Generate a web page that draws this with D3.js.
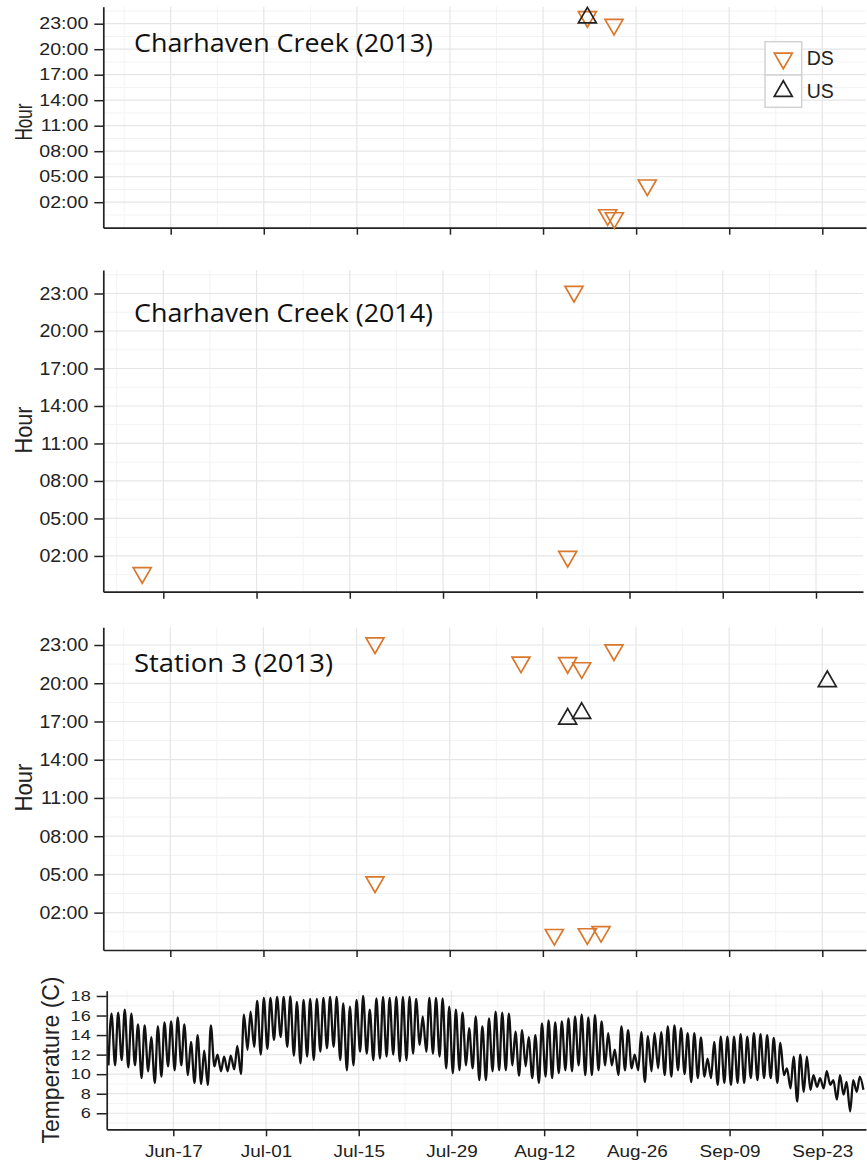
<!DOCTYPE html>
<meta charset="utf-8">
<script src="https://cdn.jsdelivr.net/npm/d3@7"></script>
<style>
body{margin:0;background:#fff;}
svg{display:block;}
</style>
<div id="vis"></div>
<script>
// detections: date-time and hour of day, per site / direction
var ch13DsTime = ["2013-08-18 16:00","2013-08-22 16:00","2013-08-27 16:20","2013-08-21 17:20","2013-08-22 17:20"];
var ch13DsHour = [23.8, 22.9, 4.0, 0.5, 0.15];
var ch13UsTime = ["2013-08-18 16:00"];
var ch13UsHour = [23.7];

var ch14DsTime = ["2014-06-13 20:00","2014-08-17 16:00","2014-08-16 17:20"];
var ch14DsHour = [0.65, 23.15, 1.95];
var ch14UsTime = [];
var ch14UsHour = [];

var st3DsTime = ["2013-07-17 18:30","2013-07-17 18:30","2013-08-08 17:00","2013-08-15 17:30","2013-08-17 20:00",
                 "2013-08-22 16:30","2013-08-13 17:20","2013-08-18 16:20","2013-08-20 17:50"];
var st3DsHour = [23.15, 4.4, 21.65, 21.6, 21.2, 22.6, 0.27, 0.33, 0.5];
var st3UsTime = ["2013-08-15 17:30","2013-08-17 20:00","2013-09-23 18:00"];
var st3UsHour = [17.2, 17.65, 20.15];

// water temperature, daily low (early morning) and high (afternoon) from Jun 7
var tempStart = "2013-06-07";
var tempMin = [10.9,10.9,11.45,10.7,10.9,9.6,10.3,9.1,9.75,10.8,10.4,10.9,9.9,9.1,9.0,8.9,10.8,10.3,10.3,10.5,10.0,12.5,12.8,12.0,12.6,13.5,13.8,12.8,
  11.9,11.1,11.8,11.45,12.3,12.65,12.8,11.45,10.4,10.9,12.3,12.1,11.45,11.6,11.8,12.0,11.3,11.45,12.1,13.0,12.3,12.1,11.8,10.6,10.1,10.4,10.9,10.6,9.4,9.4,10.3,
  10.4,10.4,10.9,9.85,10.8,9.6,9.1,9.75,9.6,10.1,10.4,10.3,10.9,9.9,9.9,10.4,10.9,10.9,9.9,10.4,10.6,10.4,9.2,10.3,10.6,9.9,9.75,10.4,
  10.0,9.2,9.6,9.75,9.6,8.9,9.1,8.9,9.1,9.1,9.6,9.4,9.6,9.6,9.1,9.9,8.55,7.2,8.2,8.4,8.7,8.55,8.9,7.4,7.9,6.2,8.2,8.4];
var tempMax = [16.2,16.3,16.6,16.2,15.1,15.0,13.8,14.9,15.3,15.4,15.8,15.1,13.3,14.0,12.4,15.0,12.0,11.8,11.9,12.9,16.1,16.4,17.5,17.8,17.8,17.9,17.9,17.95,
  17.4,17.6,17.7,17.7,17.8,17.9,17.9,17.25,16.9,17.6,18.0,16.6,17.75,17.9,17.8,17.9,17.9,17.9,17.7,15.9,17.8,17.8,17.75,16.9,16.6,16.3,14.7,15.9,14.9,15.7,
  16.4,16.3,16.2,14.35,14.5,13.8,14.0,15.2,15.5,15.3,15.4,15.7,15.9,16.1,15.8,16.05,15.4,14.2,12.5,14.9,14.5,12.0,14.3,13.9,14.2,14.3,14.9,15.0,14.7,
  14.2,14.2,13.75,11.6,13.3,13.85,13.85,13.85,14.1,13.85,14.2,14.1,14.0,13.7,13.2,10.6,11.8,12.0,11.8,9.9,9.6,10.3,9.4,9.9,9.2,9.4,9.75];

var hourTicks = [2, 5, 8, 11, 14, 17, 20, 23];
var tempTicks = [6, 8, 10, 12, 14, 16, 18];
var dateTicks = ["2013-06-17","2013-07-01","2013-07-15","2013-07-29","2013-08-12","2013-08-26","2013-09-09","2013-09-23"];

var W = 867, H = 1172;
var orange = "#d9782d", dark = "#222";
var parseTime = d3.timeParse("%Y-%m-%d %H:%M");
var parseDay = d3.timeParse("%Y-%m-%d");
var ticksX = dateTicks.map(parseDay);
var minorX = [d3.timeDay.offset(ticksX[0], -7)].concat(ticksX.slice(0, -1).map(function(d){ return d3.timeDay.offset(d, 7); }));

// every panel uses the 2013 season calendar
function season(s){
  var t = parseTime(s);
  return new Date(2013, t.getMonth(), t.getDate(), t.getHours(), t.getMinutes());
}
function pts(times, hours){
  return times.map(function(t, i){ return {t: season(t), h: hours[i]}; });
}

var svg = d3.select("#vis").append("svg").attr("width", W).attr("height", H);

function makeX(p){
  var x = d3.scaleTime().domain([ticksX[0], ticksX[ticksX.length - 1]]).range([p.x0, p.x1]);
  return x.domain([x.invert(p.left), x.invert(p.right)]).range([p.left, p.right]);
}

function grid(g, x, y, majorY, minorY, p){
  g.selectAll(".gminy").data(minorY).enter().append("line")
    .attr("x1", p.left).attr("x2", p.right).attr("y1", y).attr("y2", y)
    .attr("stroke", "#f3f3f3").attr("stroke-width", 1);
  g.selectAll(".gminx").data(minorX).enter().append("line")
    .attr("x1", x).attr("x2", x).attr("y1", p.top).attr("y2", p.bottom)
    .attr("stroke", "#f3f3f3").attr("stroke-width", 1);
  g.selectAll(".gmajy").data(majorY).enter().append("line")
    .attr("x1", p.left).attr("x2", p.right).attr("y1", y).attr("y2", y)
    .attr("stroke", "#e6e6e6").attr("stroke-width", 1.2);
  g.selectAll(".gmajx").data(ticksX).enter().append("line")
    .attr("x1", x).attr("x2", x).attr("y1", p.top).attr("y2", p.bottom)
    .attr("stroke", "#e6e6e6").attr("stroke-width", 1.2);
}

function axes(g, x, y, p, yTicks, yFmt, showDates){
  var ya = g.append("g").attr("transform", "translate(" + p.left + ",0)")
    .call(d3.axisLeft(y).tickValues(yTicks).tickFormat(yFmt).tickSize(p.tickLen).tickPadding(6).tickSizeOuter(0));
  var xa = g.append("g").attr("transform", "translate(0," + p.bottom + ")")
    .call(d3.axisBottom(x).tickValues(ticksX).tickFormat(showDates ? d3.timeFormat("%b-%d") : "").tickSize(7).tickPadding(9).tickSizeOuter(0));
  [ya, xa].forEach(function(a){
    a.select(".domain").attr("stroke", dark).attr("stroke-width", 1.7);
    a.selectAll(".tick line").attr("stroke", dark).attr("stroke-width", 1.5);
    a.selectAll(".tick text").attr("fill", dark).style("font-family", "'Liberation Sans', Arial, sans-serif");
  });
  ya.selectAll(".tick text").style("font-size", p.tickFont + "px")
    .attr("x", -(p.tickLen + 6) / p.tickStretch)
    .attr("transform", "scale(" + p.tickStretch + ",1)");
  xa.selectAll(".tick text").style("font-size", "17.2px").attr("dy", "0.71em")
    .attr("transform", "scale(1.1,1)");
}

function yTitle(label, cx, cy, len){
  svg.append("text").attr("transform", "translate(" + cx + "," + cy + ") rotate(-90)")
    .attr("text-anchor", "middle").attr("textLength", len).attr("lengthAdjust", "spacingAndGlyphs")
    .style("font-family", "'Liberation Sans', Arial, sans-serif").style("font-size", "23px").attr("fill", dark)
    .text(label);
}

var tri = d3.symbol().type(d3.symbolTriangle).size(140);

var hourPanels = [
  {title: "Charhaven Creek (2013)", titleLen: 299, titleY: 51.7, left: 103.3, right: 866, top: 6.7, bottom: 227.7,
   x0: 170.7, x1: 822.3, yDom: [-1, 25], tickFont: 16.3, tickStretch: 1.2, tickLen: 9, hourY: 122, hourLen: 37,
   ds: pts(ch13DsTime, ch13DsHour), us: pts(ch13UsTime, ch13UsHour), legend: true},
  {title: "Charhaven Creek (2014)", titleLen: 299, titleY: 322.3, left: 103.3, right: 863, top: 270, bottom: 591.7,
   x0: 163.3, x1: 816, yDom: [-0.86, 24.88], tickFont: 18.6, tickStretch: 1.05, tickLen: 9, hourY: 430, hourLen: 47,
   ds: pts(ch14DsTime, ch14DsHour), us: pts(ch14UsTime, ch14UsHour)},
  {title: "Station 3 (2013)", titleLen: 199, titleY: 672.3, left: 103.3, right: 866, top: 627.3, bottom: 950,
   x0: 170.3, x1: 822.3, yDom: [-0.93, 24.39], tickFont: 18.6, tickStretch: 1.05, tickLen: 9, hourY: 787.5, hourLen: 48,
   ds: pts(st3DsTime, st3DsHour), us: pts(st3UsTime, st3UsHour)}
];

hourPanels.forEach(function(p){
  var x = makeX(p);
  var y = d3.scaleLinear().domain(p.yDom).range([p.bottom, p.top]);
  var g = svg.append("g");
  var minorY = d3.range(0.5, 25, 3).filter(function(h){ return h > p.yDom[0] && h < p.yDom[1]; });
  grid(g, x, y, hourTicks, minorY, p);
  axes(g, x, y, p, hourTicks, function(h){ return d3.format("02")(h) + ":00"; }, false);

  g.append("text").attr("x", 134).attr("y", p.titleY)
    .attr("textLength", p.titleLen).attr("lengthAdjust", "spacingAndGlyphs")
    .style("font-family", "'Open Sans', sans-serif").style("font-size", "26px").attr("fill", "#111")
    .text(p.title);

  g.selectAll(".ds").data(p.ds).enter().append("path")
    .attr("d", tri)
    .attr("transform", function(d){ return "translate(" + x(d.t) + "," + y(d.h) + ") rotate(180)"; })
    .attr("fill", "none").attr("stroke", orange).attr("stroke-width", 1.7);
  g.selectAll(".us").data(p.us).enter().append("path")
    .attr("d", tri)
    .attr("transform", function(d){ return "translate(" + x(d.t) + "," + y(d.h) + ")"; })
    .attr("fill", "none").attr("stroke", dark).attr("stroke-width", 1.7);

  yTitle("Hour", 31.5, p.hourY, p.hourLen);

  if (p.legend) {
    var lg = g.append("g").attr("transform", "translate(765,41.7)");
    var keys = [{label: "DS", c: orange, rot: 180, y: 0, h: 33.3}, {label: "US", c: dark, rot: 0, y: 33.3, h: 32.3}];
    keys.forEach(function(k){
      lg.append("rect").attr("x", 0).attr("y", k.y).attr("width", 36.7).attr("height", k.h)
        .attr("fill", "#fff").attr("stroke", "#d2d2d2").attr("stroke-width", 1.5);
      lg.append("path").attr("d", tri)
        .attr("transform", "translate(18.3," + (k.y + k.h / 2) + ") rotate(" + k.rot + ")")
        .attr("fill", "none").attr("stroke", k.c).attr("stroke-width", 1.7);
      lg.append("text").attr("x", 41.7).attr("y", k.y + k.h / 2).attr("dy", "0.36em")
        .style("font-family", "'Liberation Sans', Arial, sans-serif").style("font-size", "19.5px").attr("fill", dark)
        .text(k.label);
    });
  }
});

// temperature panel
var tp = {left: 106.7, right: 866, top: 990.7, bottom: 1129.3, x0: 173.3, x1: 822.3,
          tickFont: 14.5, tickStretch: 1.25, tickLen: 10};
var tx = makeX(tp);
var ty = d3.scaleLinear().domain([4.36, 18.54]).range([tp.bottom, tp.top]);
var tg = svg.append("g");
grid(tg, tx, ty, tempTicks, [5, 7, 9, 11, 13, 15, 17], tp);

var day0 = parseDay(tempStart);
var temps = [];
tempMin.forEach(function(v, k){
  var d = d3.timeDay.offset(day0, k);
  temps.push({t: d3.timeHour.offset(d, 5), v: v});
  if (k < tempMax.length) temps.push({t: d3.timeHour.offset(d, 16), v: tempMax[k]});
});

tg.append("path").datum(temps)
  .attr("d", d3.line().x(function(d){ return tx(d.t); }).y(function(d){ return ty(d.v); }).curve(d3.curveMonotoneX))
  .attr("fill", "none").attr("stroke", "#111").attr("stroke-width", 2.3).attr("stroke-linejoin", "round");

axes(tg, tx, ty, tp, tempTicks, d3.format("d"), true);
yTitle("Temperature (C)", 59, 1060, 167);
</script>
